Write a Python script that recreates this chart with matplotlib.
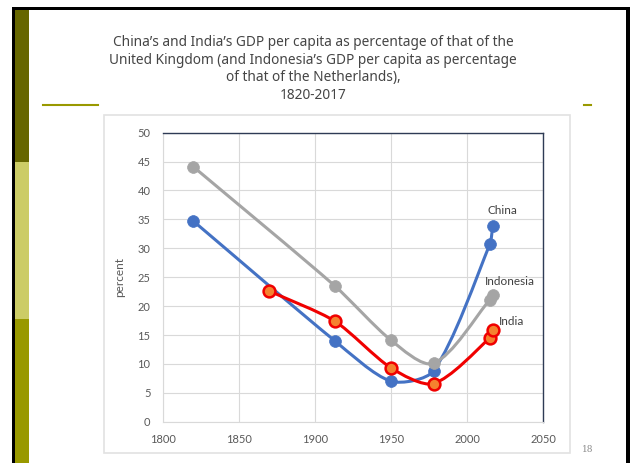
import numpy as np
import matplotlib
matplotlib.use("Agg")
import matplotlib.pyplot as plt
from matplotlib.path import Path
from matplotlib.patches import PathPatch, Rectangle
from matplotlib.lines import Line2D

# data (percent of UK / Netherlands GDP per capita)
china_years = [1820, 1913, 1950, 1978, 2015, 2017]
china_pct = [34.7, 14.0, 7.0, 8.8, 30.7, 33.9]
india_years = [1870, 1913, 1950, 1978, 2015, 2017]
india_pct = [22.6, 17.4, 9.3, 6.6, 14.5, 15.9]
indonesia_years = [1820, 1913, 1950, 1978, 2015, 2017]
indonesia_pct = [44.1, 23.5, 14.1, 10.1, 21.1, 21.9]

x_ticks = [1800, 1850, 1900, 1950, 2000, 2050]
y_ticks = [0, 5, 10, 15, 20, 25, 30, 35, 40, 45, 50]

title = ("China\u2019s and India\u2019s GDP per capita as percentage of that of the\n"
         "United Kingdom (and Indonesia\u2019s GDP per capita as percentage\n"
         "of that of the Netherlands),\n"
         "1820-2017")

W, H = 632, 463
fig = plt.figure(figsize=(W / 100, H / 100), dpi=100)


def rect(x0, y0, x1, y1, **kw):
    # rectangle in pixel coords (origin top-left)
    r = Rectangle((x0 / W, 1 - y1 / H), (x1 - x0) / W, (y1 - y0) / H,
                  transform=fig.transFigure, zorder=-1, **kw)
    fig.add_artist(r)


def hline(x0, x1, y, **kw):
    fig.add_artist(Line2D([x0 / W, x1 / W], [1 - y / H, 1 - y / H],
                          transform=fig.transFigure, zorder=-1, **kw))


# slide decoration
rect(12, 7, 630, 9.5, color="black", lw=0)
rect(12, 7, 15, 463, color="black", lw=0)
rect(625.5, 7, 630, 463, color="black", lw=0)
rect(15, 9.5, 28.5, 162, color="#666600", lw=0)
rect(15, 162, 29, 319, color="#CCCC66", lw=0)
rect(15, 319, 29, 463, color="#999900", lw=0)
hline(43, 98, 105, color="#999900", lw=1.5)
hline(584, 591, 105, color="#999900", lw=1.5)
rect(104, 115, 570, 453, facecolor="white", edgecolor="#E2E2E2", lw=1.2)

fig.text(313 / W, 1 - 35 / H, title, ha="center", va="top", fontsize=9.85,
         family="Noto Sans", color="#454545", linespacing=1.25)
fig.text(588 / W, 1 - 450 / H, "18", ha="center", va="center", fontsize=6.5,
         family="DejaVu Serif", color="#8C8C8C")

ax = fig.add_axes([163 / W, 1 - 421.7 / H, 380 / W, 289 / H])
ax.set_zorder(2)
ax.set_xlim(1800, 2050)
ax.set_ylim(0, 50)
ax.set_xticks(x_ticks)
ax.set_yticks(y_ticks)
ax.grid(True, color="#D9D9D9", lw=0.8)
ax.set_axisbelow(True)
ax.tick_params(length=0, labelsize=8, labelcolor="#595959")
ax.tick_params(axis="x", pad=9)
ax.tick_params(axis="y", pad=9)
for lab in ax.get_xticklabels() + ax.get_yticklabels():
    lab.set_family("Lato")
for side in ["top", "right"]:
    ax.spines[side].set_color("#2E3B55")
    ax.spines[side].set_linewidth(1)
for side in ["left", "bottom"]:
    ax.spines[side].set_color("#D9D9D9")
    ax.spines[side].set_linewidth(0.8)
ax.set_ylabel("percent", fontsize=8.5, color="#595959", family="Lato", labelpad=9)


def smooth_path(xs, ys, k=0.25):
    # Excel-like smoothed line: bezier through the points, built in display space
    pts = ax.transData.transform(np.column_stack([xs, ys]))
    n = len(pts)
    verts = [pts[0]]
    codes = [Path.MOVETO]
    for i in range(n - 1):
        p0 = pts[max(i - 1, 0)]
        p1 = pts[i]
        p2 = pts[i + 1]
        p3 = pts[min(i + 2, n - 1)]
        seg = np.hypot(*(p2 - p1))
        d1 = (p2 - p0) / np.hypot(*(p2 - p0))
        d2 = (p3 - p1) / np.hypot(*(p3 - p1))
        verts += [p1 + d1 * seg * k, p2 - d2 * seg * k, p2]
        codes += [Path.CURVE4] * 3
    verts = ax.transData.inverted().transform(np.array(verts))
    return Path(verts, codes)


series = [
    (china_years, china_pct, "#4472C4", "#4472C4", "#4472C4", 2),
    (india_years, india_pct, "#F00000", "#F5822F", "#F00000", 3),
    (indonesia_years, indonesia_pct, "#A5A5A5", "#A5A5A5", "#A5A5A5", 4),
]
for xs, ys, lc, mfc, mec, z in series:
    ax.add_patch(PathPatch(smooth_path(xs, ys), facecolor="none", edgecolor=lc,
                           lw=2.2, zorder=z, capstyle="round"))
    ax.plot(xs, ys, ls="none", marker="o", ms=8.5, mfc=mfc, mec=mec,
            mew=1.8 if mfc != mec else 0.5, zorder=z + 0.5)

lab_kw = dict(fontsize=8.5, family="Lato", color="#404040", ha="center", va="center")
ax.text(2023.5, 36.6, "China", **lab_kw)
ax.text(2028, 24.3, "Indonesia", **lab_kw)
ax.text(2029, 17.4, "India", **lab_kw)

fig.savefig("out.png", dpi=100)
